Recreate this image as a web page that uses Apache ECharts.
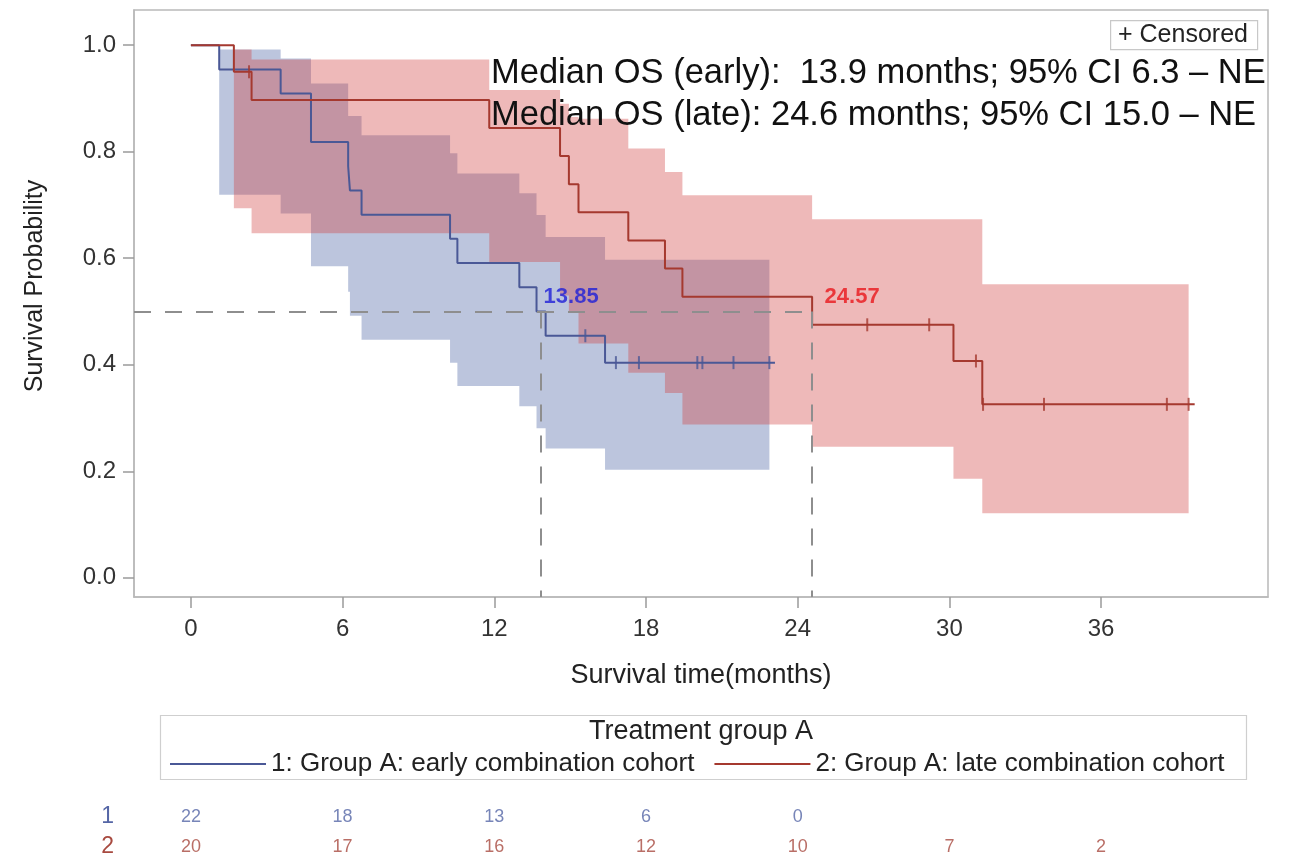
<!DOCTYPE html>
<html>
<head>
<meta charset="utf-8">
<script src="https://cdn.jsdelivr.net/npm/echarts@6.0.0/dist/echarts.min.js"></script>
<style>
  html, body { margin: 0; padding: 0; background: #ffffff; }
  #chart { width: 1291px; height: 855px; }
</style>
</head>
<body>
<div id="chart"></div>
<script>
// Kaplan-Meier overall survival, Treatment group A (early vs late combination cohort)

const xTicks = [0, 6, 12, 18, 24, 30, 36];
const yTicks = [0, 0.2, 0.4, 0.6, 0.8, 1.0];

const groupNames = ['1: Group A: early combination cohort', '2: Group A: late combination cohort'];
const riskRowLabels = ['1', '2'];

// Early cohort: KM step curve (time in months, survival after the step)
const earlyTimes = [0, 1.12, 3.55, 4.75, 6.22, 6.29, 6.75, 10.25, 10.54, 12.99, 13.67, 14.03, 16.38, 23.1];
const earlySurv  = [1, 0.9545, 0.9091, 0.8182, 0.7727, 0.7273, 0.6818, 0.6364, 0.5909, 0.5455, 0.5, 0.4545, 0.4040, 0.4040];
const earlyCensored = [15.6, 16.81, 17.72, 20.03, 20.23, 21.46, 22.88];
// Early cohort: pointwise 95% confidence band
const earlyBandT     = [1.12, 3.55, 4.75, 6.22, 6.29, 6.75, 10.25, 10.54, 12.99, 13.67, 14.03, 16.38, 22.88];
const earlyBandUpper = [0.992, 0.975, 0.928, 0.867, 0.867, 0.831, 0.797, 0.759, 0.722, 0.681, 0.640, 0.597];
const earlyBandLower = [0.719, 0.684, 0.585, 0.537, 0.492, 0.447, 0.404, 0.360, 0.322, 0.281, 0.243, 0.203];

// Late cohort: KM step curve
const lateTimes = [0, 1.7, 2.4, 11.8, 14.6, 14.95, 15.33, 17.3, 18.75, 19.44, 24.57, 30.16, 31.3, 39.7];
const lateSurv  = [1, 0.95, 0.8972, 0.8444, 0.7917, 0.7389, 0.6861, 0.6333, 0.5806, 0.5278, 0.4750, 0.4071, 0.3257, 0.3257];
const lateCensored = [2.3, 26.75, 29.2, 31.05, 31.33, 33.74, 38.6, 39.46];
// Late cohort: pointwise 95% confidence band
const lateBandT     = [1.7, 2.4, 11.8, 14.6, 14.95, 15.33, 17.3, 18.75, 19.44, 24.57, 30.16, 31.3, 39.46];
const lateBandUpper = [0.992, 0.973, 0.916, 0.89, 0.865, 0.862, 0.806, 0.762, 0.718, 0.673, 0.673, 0.551];
const lateBandLower = [0.694, 0.647, 0.593, 0.53, 0.497, 0.44, 0.385, 0.347, 0.288, 0.246, 0.186, 0.121];

// Median survival times (months)
const medians = [13.85, 24.57];

// Number at risk at each x tick
const earlyAtRisk = [22, 18, 13, 6, 0];
const lateAtRisk  = [20, 17, 16, 12, 10, 7, 2];

const annotationLines = [
  'Median OS (early):  13.9 months; 95% CI 6.3 \u2013 NE',
  'Median OS (late): 24.6 months; 95% CI 15.0 \u2013 NE'
];

// ---- styling ----
const FONT = '"Liberation Sans", Arial, Helvetica, sans-serif';
const X_RANGE = [-2.25, 42.6];
const Y_RANGE = [-0.036, 1.066];
const RISK_ROW_RANGE = [-0.5, 1.5];
const BLUE = '#4a5896';
const RED = '#a5392f';
const BLUE_FILL = 'rgba(88,110,170,0.40)';
const RED_FILL = 'rgba(208,66,66,0.37)';
const BLUE_TXT = '#5566a6';
const RED_TXT = '#a84a40';

function survAt(times, surv, t) {
  let s = surv[0];
  for (let i = 0; i < times.length; i++) { if (times[i] <= t) s = surv[i]; }
  return s;
}

function bandOutline(T, U, L) {
  const pts = [];
  for (let i = 0; i < U.length; i++) { pts.push([T[i], U[i]], [T[i + 1], U[i]]); }
  for (let i = L.length - 1; i >= 0; i--) { pts.push([T[i + 1], L[i]], [T[i], L[i]]); }
  return pts;
}

function bandSeries(name, T, U, L, fill) {
  const outline = bandOutline(T, U, L);
  return {
    type: 'custom', name: name, silent: true, z: 1,
    xAxisIndex: 0, yAxisIndex: 0,
    data: [[T[0], U[0]]],
    renderItem: function (params, api) {
      if (params.dataIndex !== 0) return null;
      return {
        type: 'polygon',
        shape: { points: outline.map(p => api.coord(p)) },
        style: { fill: fill, stroke: null }
      };
    }
  };
}

const chart = echarts.init(document.getElementById('chart'), null, { renderer: 'canvas' });

const option = {
  animation: false,
  backgroundColor: '#ffffff',
  textStyle: { fontFamily: FONT },
  grid: [
    { left: 134, right: 23, top: 10, bottom: 258, show: true, borderColor: '#b9b9b9', borderWidth: 1.5,
      outerBoundsMode: 'none' },
    { left: 134, right: 23, top: 802, height: 60, outerBoundsMode: 'none' }
  ],
  xAxis: [
    {
      type: 'value', gridIndex: 0, min: X_RANGE[0], max: X_RANGE[1],
      name: 'Survival time(months)', nameLocation: 'middle', nameGap: 65,
      nameTextStyle: { fontSize: 27, color: '#222', fontFamily: FONT },
      axisLine: { show: true, onZero: false, lineStyle: { color: '#b9b9b9', width: 1.5 } },
      axisTick: { show: true, customValues: xTicks, length: 11, lineStyle: { color: '#9a9a9a', width: 1.5 } },
      axisLabel: { customValues: xTicks, fontSize: 24, color: '#333', margin: 20, fontFamily: FONT },
      splitLine: { show: false }
    },
    {
      type: 'value', gridIndex: 1, min: X_RANGE[0], max: X_RANGE[1], show: false
    }
  ],
  yAxis: [
    {
      type: 'value', gridIndex: 0, min: Y_RANGE[0], max: Y_RANGE[1],
      axisLine: { show: true, onZero: false, lineStyle: { color: '#b9b9b9', width: 1.5 } },
      axisTick: { show: true, customValues: yTicks, length: 11, lineStyle: { color: '#9a9a9a', width: 1.5 } },
      axisLabel: { customValues: yTicks, fontSize: 24, color: '#333', margin: 18, fontFamily: FONT,
                   formatter: v => Number(v).toFixed(1) },
      splitLine: { show: false }
    },
    {
      // at-risk table rows: row 0 = early cohort, row 1 = late cohort
      type: 'value', gridIndex: 1, inverse: true,
      min: RISK_ROW_RANGE[0], max: RISK_ROW_RANGE[1],
      axisLine: { show: false }, axisTick: { show: false }, splitLine: { show: false },
      axisLabel: { customValues: [0, 1], fontSize: 23, margin: 20, fontFamily: FONT,
                   formatter: v => riskRowLabels[Math.round(v)],
                   color: v => (Math.round(v) === 0 ? BLUE_TXT : RED_TXT) }
    }
  ],
  legend: {
    data: groupNames.map(n => ({ name: n, icon: 'rect' })),
    left: 170, top: 751, padding: 0,
    itemWidth: 96, itemHeight: 2, itemGap: 20,
    textStyle: { fontSize: 26, color: '#222', fontFamily: FONT }
  },
  series: [
    bandSeries('early band', earlyBandT, earlyBandUpper, earlyBandLower, BLUE_FILL),
    bandSeries('late band', lateBandT, lateBandUpper, lateBandLower, RED_FILL),
    {
      type: 'line', name: 'median reference', z: 2, silent: true,
      data: [[medians[0], 0.5]], symbol: 'none', lineStyle: { opacity: 0 },
      markLine: {
        silent: true, symbol: ['none', 'none'], label: { show: false },
        lineStyle: { color: '#8e8e8e', type: [17, 14], width: 2 },
        data: [
          [{ coord: [X_RANGE[0], 0.5] }, { coord: [medians[1], 0.5] }],
          [{ coord: [medians[0], 0.5] }, { coord: [medians[0], Y_RANGE[0]] }],
          [{ coord: [medians[1], 0.5] }, { coord: [medians[1], Y_RANGE[0]] }]
        ]
      }
    },
    {
      type: 'line', name: groupNames[0], step: 'end', z: 3,
      data: earlyTimes.map((t, i) => [t, earlySurv[i]]),
      symbol: 'none', showSymbol: false,
      color: BLUE, lineStyle: { color: BLUE, width: 2 }
    },
    {
      type: 'line', name: groupNames[1], step: 'end', z: 3,
      data: lateTimes.map((t, i) => [t, lateSurv[i]]),
      symbol: 'none', showSymbol: false,
      color: RED, lineStyle: { color: RED, width: 2 }
    },
    {
      type: 'scatter', name: 'early censored', z: 4, silent: true,
      data: earlyCensored.map(t => [t, survAt(earlyTimes, earlySurv, t)]),
      symbol: 'rect', symbolSize: [2, 13], itemStyle: { color: BLUE }
    },
    {
      type: 'scatter', name: 'late censored', z: 4, silent: true,
      data: lateCensored.map(t => [t, survAt(lateTimes, lateSurv, t)]),
      symbol: 'rect', symbolSize: [2, 13], itemStyle: { color: RED }
    },
    {
      type: 'scatter', name: 'median labels', z: 5, silent: true,
      symbolSize: 1, itemStyle: { color: 'rgba(0,0,0,0)' },
      label: {
        show: true, position: 'right', offset: [0, -15],
        fontSize: 22, fontWeight: 'bold', fontFamily: FONT,
        formatter: p => p.value[0].toFixed(2)
      },
      data: [
        { value: [medians[0], 0.5], label: { color: '#1e1ed8', distance: 2 } },
        { value: [medians[1], 0.5], label: { color: '#e8161c', distance: 12 } }
      ]
    },
    {
      type: 'scatter', name: 'at risk early', xAxisIndex: 1, yAxisIndex: 1, silent: true,
      symbolSize: 1, itemStyle: { color: 'rgba(0,0,0,0)' },
      label: { show: true, position: 'inside', fontSize: 18, color: BLUE_TXT, fontFamily: FONT,
               formatter: p => String(p.value[2]) },
      data: earlyAtRisk.map((n, i) => [xTicks[i], 0, n])
    },
    {
      type: 'scatter', name: 'at risk late', xAxisIndex: 1, yAxisIndex: 1, silent: true,
      symbolSize: 1, itemStyle: { color: 'rgba(0,0,0,0)' },
      label: { show: true, position: 'inside', fontSize: 18, color: RED_TXT, fontFamily: FONT,
               formatter: p => String(p.value[2]) },
      data: lateAtRisk.map((n, i) => [xTicks[i], 1, n])
    }
  ],
  graphic: [
    // y-axis title
    { type: 'text', x: 35, y: 286, rotation: Math.PI / 2, z: 11, silent: true,
      style: { text: 'Survival Probability', font: '25px ' + FONT, fill: '#222',
               align: 'center', verticalAlign: 'middle' } },
    // censored-marker key box
    { type: 'rect', left: 1110, top: 20, z: 10, silent: true,
      shape: { width: 147, height: 29 },
      style: { fill: '#ffffff', stroke: '#c8c8c8', lineWidth: 1.2 } },
    { type: 'text', x: 1118, y: 35, z: 11, silent: true,
      style: { text: '+ Censored', font: '25px ' + FONT, fill: '#222', verticalAlign: 'middle' } },
    // median OS annotations
    { type: 'text', x: 491, y: 73, z: 11, silent: true,
      style: { text: annotationLines[0], font: '34.5px ' + FONT, fill: '#111', verticalAlign: 'middle' } },
    { type: 'text', x: 491, y: 115, z: 11, silent: true,
      style: { text: annotationLines[1], font: '34.5px ' + FONT, fill: '#111', verticalAlign: 'middle' } },
    // legend frame and title
    { type: 'rect', left: 158, top: 713, z: 0, silent: true,
      shape: { width: 1086, height: 64 },
      style: { fill: 'none', stroke: '#cfcfcf', lineWidth: 1.2 } },
    { type: 'text', x: 701, y: 732, z: 11, silent: true,
      style: { text: 'Treatment group A', font: '27px ' + FONT, fill: '#222',
               align: 'center', verticalAlign: 'middle' } }
  ]
};

chart.setOption(option);
</script>
</body>
</html>
